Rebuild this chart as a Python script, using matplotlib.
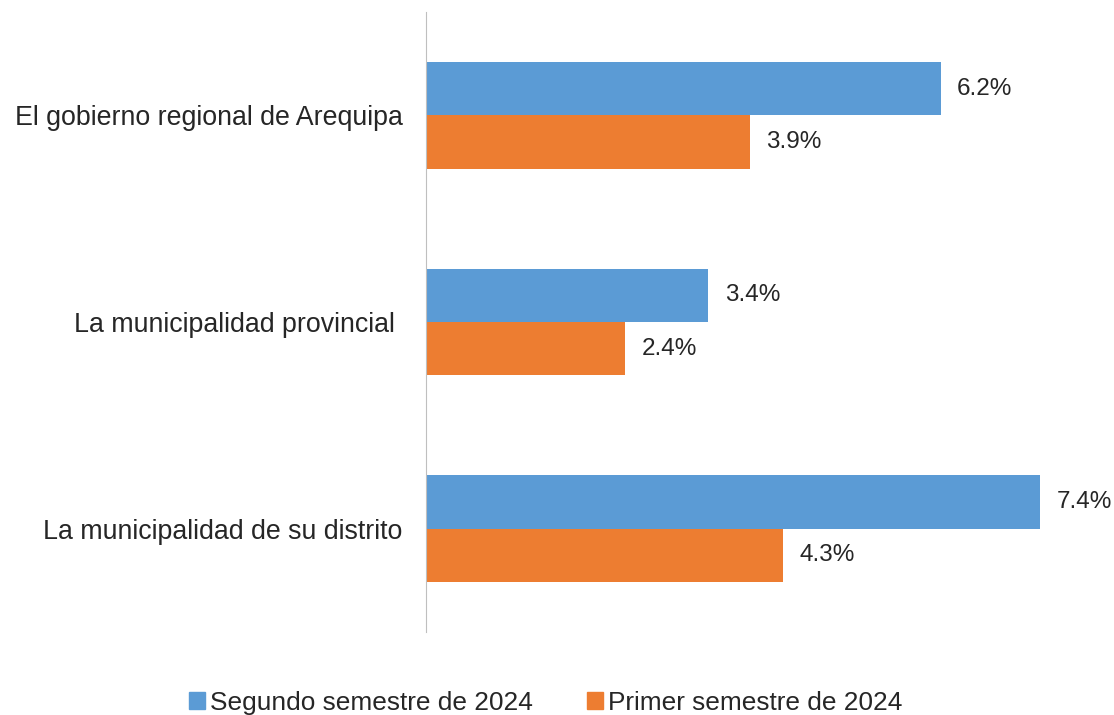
import numpy as np
import matplotlib.pyplot as plt
from matplotlib.patches import Patch

plt.rcParams['font.family'] = ['Liberation Sans', 'DejaVu Sans']

# Data
categories = ['El gobierno regional de Arequipa', 'La municipalidad provincial ',
              'La municipalidad de su distrito']
segundo = [6.2, 3.4, 7.4]
primero = [3.9, 2.4, 4.3]
series_names = ['Segundo semestre de 2024', 'Primer semestre de 2024']
colors = ['#5B9BD5', '#ED7D31']

fig = plt.figure(figsize=(11.14, 7.15), dpi=100)
ax = fig.add_axes([426 / 1114, 1 - 632 / 715, (1090 - 426) / 1114, 620 / 715])

y = np.arange(len(categories))
h = 0.258
b1 = ax.barh(y - h / 2, segundo, height=h, color=colors[0])
b2 = ax.barh(y + h / 2, primero, height=h, color=colors[1])

for bars, vals in ((b1, segundo), (b2, primero)):
    for bar, v in zip(bars, vals):
        ax.text(v + 0.2, bar.get_y() + bar.get_height() / 2, f'{v:.1f}%',
                va='center', ha='left', fontsize=17.5, color='#262626')

ax.set_ylim(2.5, -0.5)
ax.set_xlim(0, 8)
ax.set_yticks(y)
ax.set_yticklabels(categories, fontsize=19.3, color='#262626')
ax.tick_params(axis='y', length=0, pad=17)
ax.set_xticks([])
for s in ['top', 'right', 'bottom']:
    ax.spines[s].set_visible(False)
ax.spines['left'].set_color('#BFBFBF')

handles = [Patch(color=c) for c in colors]
fig.legend(handles, series_names, loc='lower center', ncol=2, frameon=False,
           fontsize=18.9, handlelength=0.6, handleheight=0.6, handletextpad=0.2,
           columnspacing=2.05, bbox_to_anchor=(0.49, -0.033), labelcolor='#262626')

fig.savefig('out.png', dpi=100)
